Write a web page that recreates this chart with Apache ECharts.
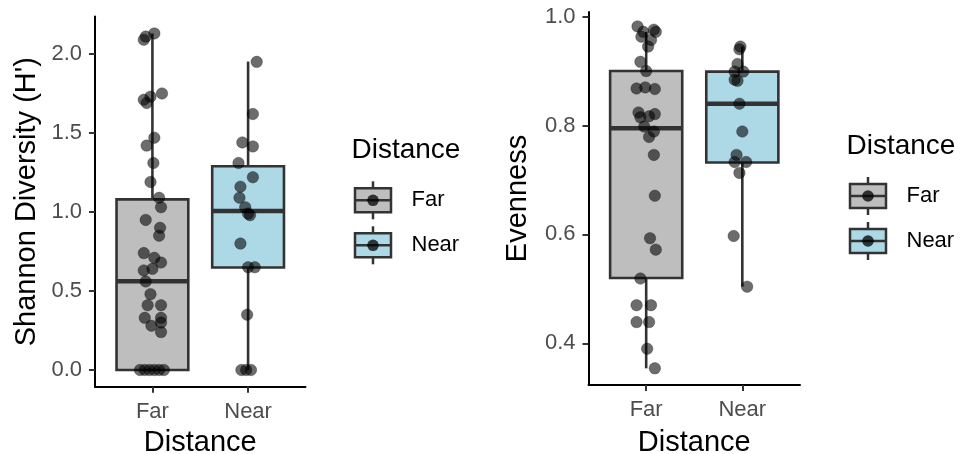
<!DOCTYPE html>
<html>
<head>
<meta charset="utf-8">
<title>Shannon diversity and evenness by distance</title>
<script src="https://cdn.jsdelivr.net/npm/echarts@6/dist/echarts.min.js"></script>
<style>
  html, body { margin: 0; padding: 0; background: #ffffff; }
  #chart { width: 962px; height: 454px; }
</style>
</head>
<body>
<div id="chart"></div>
<script>
// Groups on the discrete x axis (positions 1 and 2)
const categories = ['Far', 'Near'];

// Shannon diversity (H') per site, with horizontal jitter offsets
const shannonFar = [2.13, 2.11, 2.09, 1.75, 1.73, 1.71, 1.69, 1.47, 1.42, 1.31, 1.19, 1.09, 1.03, 0.95, 0.90, 0.85,
  0.74, 0.71, 0.68, 0.64, 0.63, 0.56, 0.48, 0.41, 0.41, 0.33, 0.33, 0.30, 0.28, 0.24, 0, 0, 0, 0, 0, 0];
const shannonFarJitter = [0.02, -0.07, -0.09, 0.10, -0.02, -0.09, -0.06, 0.02, -0.06, 0.01, -0.02, 0.07, 0.09, -0.07, 0.08, 0.07,
  -0.09, 0.02, 0.09, 0.00, -0.09, -0.07, -0.02, -0.05, 0.09, -0.08, 0.09, 0.09, -0.01, 0.09, -0.13, -0.08, -0.03, 0.02, 0.07, 0.12];
const shannonNear = [1.95, 1.62, 1.44, 1.415, 1.31, 1.22, 1.16, 1.09, 1.03, 0.99, 0.98, 0.80, 0.65, 0.65, 0.35, 0, 0, 0];
const shannonNearJitter = [0.09, 0.05, -0.06, 0.05, -0.10, 0.05, -0.08, -0.09, -0.03, 0.00, 0.02, -0.08, 0.00, 0.07, -0.01, -0.07, -0.02, 0.03];

// Evenness per site, with horizontal jitter offsets
const evenFar = [0.982, 0.976, 0.972, 0.972, 0.963, 0.957, 0.945, 0.917, 0.900, 0.868, 0.870, 0.867, 0.824, 0.821, 0.815, 0.817,
  0.798, 0.789, 0.779, 0.746, 0.671, 0.593, 0.572, 0.519, 0.470, 0.470, 0.439, 0.439, 0.390, 0.354];
const evenFarJitter = [-0.09, 0.08, -0.03, 0.10, -0.05, 0.05, 0.02, -0.06, 0.00, -0.10, -0.01, 0.09, -0.08, 0.09, -0.06, 0.03,
  -0.02, 0.08, 0.03, 0.08, 0.09, 0.04, 0.10, -0.06, -0.10, 0.05, -0.10, 0.03, 0.01, 0.09];
const evenNear = [0.945, 0.940, 0.913, 0.899, 0.899, 0.884, 0.882, 0.840, 0.789, 0.746, 0.733, 0.733, 0.713, 0.597, 0.504];
const evenNearJitter = [-0.02, -0.03, -0.05, 0.01, -0.08, -0.08, -0.05, -0.03, 0.00, -0.06, -0.08, 0.04, -0.03, -0.09, 0.05];

// Box statistics: [lower whisker, Q1, median, Q3, upper whisker]
const shannonBoxFar = [0, 0, 0.562, 1.080, 2.13];
const shannonBoxNear = [0, 0.649, 1.006, 1.289, 1.952];
const evenBoxFar = [0.354, 0.520, 0.795, 0.900, 0.972];
const evenBoxNear = [0.504, 0.732, 0.840, 0.899, 0.945];

// Axis tick labels
const shannonTicks = [0, 0.5, 1.0, 1.5, 2.0];
const evenTicks = [0.4, 0.6, 0.8, 1.0];

const groupFill = ['#bebebe', '#add8e6'];
const FONT = '"Liberation Sans", Arial, sans-serif';
const BOX_WIDTH = 0.75;
const INK = '#333333';
const POINT_STYLE = { color: 'rgba(0,0,0,0.72)', borderColor: 'rgba(0,0,0,0.35)', borderWidth: 1 };

function points(values, jitter, pos) {
  return values.map((v, i) => [pos + jitter[i], v]);
}

function boxItem(stats, pos) {
  return { value: [pos].concat(stats), itemStyle: { color: groupFill[pos - 1] } };
}

function renderBox(params, api) {
  const x = api.value(0);
  const lo = api.coord([x, api.value(1)]);
  const q1 = api.coord([x, api.value(2)]);
  const med = api.coord([x, api.value(3)]);
  const q3 = api.coord([x, api.value(4)]);
  const hi = api.coord([x, api.value(5)]);
  const half = api.size([BOX_WIDTH, 0])[0] / 2;
  const cx = lo[0];
  const line = { stroke: INK, lineWidth: 2.6 };
  return {
    type: 'group',
    children: [
      { type: 'line', shape: { x1: cx, y1: q3[1], x2: cx, y2: hi[1] }, style: line },
      { type: 'line', shape: { x1: cx, y1: q1[1], x2: cx, y2: lo[1] }, style: line },
      { type: 'rect', shape: { x: cx - half, y: q3[1], width: half * 2, height: q1[1] - q3[1] },
        style: { fill: api.visual('color'), stroke: INK, lineWidth: 2.6 } },
      { type: 'line', shape: { x1: cx - half, y1: med[1], x2: cx + half, y2: med[1] },
        style: { stroke: INK, lineWidth: 4.5 } }
    ]
  };
}

function xAxisFor(gridIndex, gap) {
  return {
    type: 'value', gridIndex, min: 0.4, max: 2.6,
    name: 'Distance', nameLocation: 'middle', nameGap: gap,
    nameTextStyle: { fontFamily: FONT, fontSize: 29, color: '#000' },
    axisLine: { show: true, onZero: false, lineStyle: { color: '#000', width: 2 } },
    axisTick: { show: true, length: 6, customValues: [1, 2], lineStyle: { color: INK, width: 2 } },
    axisLabel: { customValues: [1, 2], margin: 14, fontFamily: FONT, fontSize: 22, color: '#4d4d4d',
      formatter: v => categories[Math.round(v) - 1] },
    splitLine: { show: false }
  };
}

function yAxisFor(gridIndex, name, min, max, ticks, gap) {
  return {
    type: 'value', gridIndex, min, max,
    name, nameLocation: 'middle', nameGap: gap,
    nameTextStyle: { fontFamily: FONT, fontSize: 29, color: '#000' },
    axisLine: { show: true, onZero: false, lineStyle: { color: '#000', width: 2 } },
    axisTick: { show: true, length: 6, customValues: ticks, lineStyle: { color: INK, width: 2 } },
    axisLabel: { customValues: ticks, margin: 13, fontFamily: FONT, fontSize: 22, color: '#4d4d4d',
      formatter: v => v.toFixed(1) },
    splitLine: { show: false }
  };
}

// Legend key drawn as a small boxplot glyph with a point
function legendKey(x, y, fill) {
  // x, y: top-left of the key box
  const w = 36, h = 24;
  return [
    { type: 'line', shape: { x1: x + w / 2, y1: y - 7, x2: x + w / 2, y2: y + h + 7 }, style: { stroke: INK, lineWidth: 2.5 } },
    { type: 'rect', shape: { x, y, width: w, height: h }, style: { fill, stroke: INK, lineWidth: 2.5 } },
    { type: 'line', shape: { x1: x, y1: y + h / 2, x2: x + w, y2: y + h / 2 }, style: { stroke: INK, lineWidth: 2.5 } },
    { type: 'circle', shape: { cx: x + w / 2, cy: y + h / 2, r: 5.8 }, style: { fill: 'rgba(0,0,0,0.75)' } }
  ];
}

function legend(x0, titleY, keyY) {
  const els = [
    { type: 'text', x: x0, y: titleY, style: { text: 'Distance', font: '28px ' + FONT, fill: '#000', textVerticalAlign: 'middle' } }
  ];
  categories.forEach((c, i) => {
    const ky = keyY + i * 45;
    els.push(...legendKey(x0 + 3.5, ky, groupFill[i]));
    els.push({ type: 'text', x: x0 + 60, y: ky + 12, style: { text: c, font: '22px ' + FONT, fill: '#000', textVerticalAlign: 'middle' } });
  });
  return els;
}

const chart = echarts.init(document.getElementById('chart'), null, { renderer: 'canvas' });

chart.setOption({
  animation: false,
  backgroundColor: '#ffffff',
  grid: [
    { left: 95, top: 16.6, width: 210.5, height: 370.1, containLabel: false, outerBoundsMode: 'none' },
    { left: 588.5, top: 12, width: 211.5, height: 373, containLabel: false, outerBoundsMode: 'none' }
  ],
  xAxis: [xAxisFor(0, 42), xAxisFor(1, 43)],
  yAxis: [
    yAxisFor(0, "Shannon Diversity (H')", -0.1057, 2.2365, shannonTicks, 54),
    yAxisFor(1, 'Evenness', 0.3234, 1.0085, evenTicks, 56)
  ],
  series: [
    { type: 'custom', xAxisIndex: 0, yAxisIndex: 0, renderItem: renderBox, encode: { x: 0, y: [1, 2, 3, 4, 5] },
      data: [boxItem(shannonBoxFar, 1), boxItem(shannonBoxNear, 2)], z: 2 },
    { type: 'custom', xAxisIndex: 1, yAxisIndex: 1, renderItem: renderBox, encode: { x: 0, y: [1, 2, 3, 4, 5] },
      data: [boxItem(evenBoxFar, 1), boxItem(evenBoxNear, 2)], z: 2 },
    { type: 'scatter', xAxisIndex: 0, yAxisIndex: 0, symbolSize: 11.5, z: 3, itemStyle: POINT_STYLE,
      data: points(shannonFar, shannonFarJitter, 1).concat(points(shannonNear, shannonNearJitter, 2)) },
    { type: 'scatter', xAxisIndex: 1, yAxisIndex: 1, symbolSize: 11.5, z: 3, itemStyle: POINT_STYLE,
      data: points(evenFar, evenFarJitter, 1).concat(points(evenNear, evenNearJitter, 2)) }
  ],
  graphic: legend(351.5, 150, 188.3).concat(legend(846.5, 146, 184))
});
</script>
</body>
</html>
